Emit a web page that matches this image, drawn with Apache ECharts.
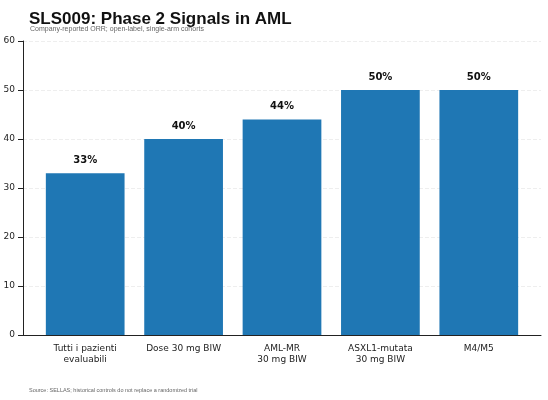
<!DOCTYPE html><html><head><meta charset="utf-8"><script src="https://cdn.jsdelivr.net/npm/echarts@6/dist/echarts.min.js"></script></head><body style="margin:0"><div id="c" style="width:548px;height:400px"></div><script>
const categories=["Tutti i pazienti\nevaluabili","Dose 30 mg BIW","AML-MR\n30 mg BIW","ASXL1-mutata\n30 mg BIW","M4/M5"];
const values=[33,40,44,50,50];
const c=echarts.init(document.getElementById('c'));
c.setOption({animation:false,
title:[{text:"SLS009: Phase 2 Signals in AML",left:24,top:6,textStyle:{fontFamily:"Liberation Sans",fontSize:17,fontWeight:"bold",color:"#111"}},
{text:"Company-reported ORR; open-label, single-arm cohorts",left:25,top:21,textStyle:{fontFamily:"Liberation Sans",fontSize:7,color:"#666",fontWeight:"normal"}},
{text:"Source: SELLAS; historical controls do not replace a randomized trial",left:24,top:382,textStyle:{fontFamily:"Liberation Sans",fontSize:5.5,color:"#666",fontWeight:"normal"}}],
grid:[{left:36,right:20,top:41,bottom:65},{left:23,right:7,top:41,bottom:65}],
xAxis:[{type:"category",gridIndex:0,data:categories,axisLine:{show:false},axisTick:{alignWithLabel:true,lineStyle:{color:"#222"}},axisLabel:{fontFamily:"DejaVu Sans",fontSize:9,color:"#222",lineHeight:11}},
{type:"value",gridIndex:1,min:0,max:1,axisLine:{lineStyle:{color:"#222"}},axisTick:{show:false},axisLabel:{show:false},splitLine:{show:false}}],
yAxis:[{type:"value",gridIndex:0,min:0,max:60,show:false},
{type:"value",gridIndex:1,min:0,max:60,interval:10,axisLine:{show:true,lineStyle:{color:"#222"}},axisTick:{show:true},axisLabel:{fontFamily:"DejaVu Sans",fontSize:9,color:"#222"},splitLine:{lineStyle:{color:"#eee",type:"dashed"}}}],
series:[{type:"bar",xAxisIndex:0,yAxisIndex:0,data:values,barWidth:"80%",itemStyle:{color:"#1f77b4"},label:{show:true,position:"top",distance:8,formatter:p=>p.value+"%",fontFamily:"DejaVu Sans",fontSize:10,fontWeight:"bold",color:"#111"}}]});
</script></body></html>
